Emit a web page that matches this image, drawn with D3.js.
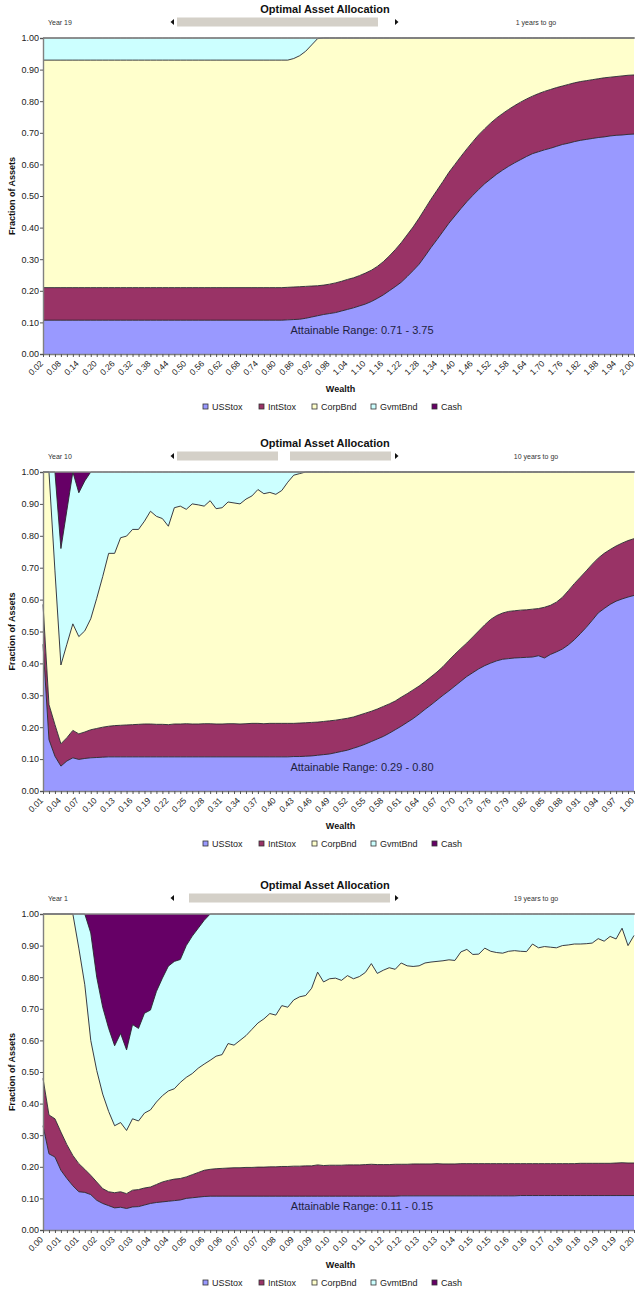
<!DOCTYPE html>
<html><head><meta charset="utf-8">
<script src="https://cdn.jsdelivr.net/npm/d3@7"></script>
<style>
body{margin:0;background:#fff}
text{font-family:"Liberation Sans",Arial,sans-serif}
</style>
</head><body>
<svg id="c" width="635" height="1291"></svg>
<script>
// ---------- DATA ----------
const seriesNames = ["USStox","IntStox","CorpBnd","GvmtBnd","Cash"];
const yTicks = [0,0.1,0.2,0.3,0.4,0.5,0.6,0.7,0.8,0.9,1.0];

// Panel 1 (Year 19)
const p1Wealth = [0.02,0.04,0.06,0.08,0.10,0.12,0.14,0.16,0.18,0.20,0.22,0.24,0.26,0.28,0.30,0.32,0.34,0.36,0.38,0.40,
0.42,0.44,0.46,0.48,0.50,0.52,0.54,0.56,0.58,0.60,0.62,0.64,0.66,0.68,0.70,0.72,0.74,0.76,0.78,0.80,
0.82,0.84,0.86,0.88,0.90,0.92,0.94,0.96,0.98,1.00,1.02,1.04,1.06,1.08,1.10,1.12,1.14,1.16,1.18,1.20,
1.22,1.24,1.26,1.28,1.30,1.32,1.34,1.36,1.38,1.40,1.42,1.44,1.46,1.48,1.50,1.52,1.54,1.56,1.58,1.60,
1.62,1.64,1.66,1.68,1.70,1.72,1.74,1.76,1.78,1.80,1.82,1.84,1.86,1.88,1.90,1.92,1.94,1.96,1.98,2.00];
const p1TickLabels = ["0.02","0.08","0.14","0.20","0.26","0.32","0.38","0.44","0.50","0.56","0.62","0.68","0.74","0.80","0.86","0.92","0.98","1.04","1.10","1.16","1.22","1.28","1.34","1.40","1.46","1.52","1.58","1.64","1.70","1.76","1.82","1.88","1.94","2.00"];
const p1USStox = [0.107,0.107,0.107,0.107,0.107,0.107,0.107,0.107,0.107,0.107,
0.107,0.107,0.107,0.107,0.107,0.107,0.107,0.107,0.107,0.107,
0.107,0.107,0.107,0.107,0.107,0.107,0.107,0.107,0.107,0.107,
0.107,0.107,0.107,0.107,0.107,0.107,0.107,0.107,0.107,0.107,
0.107,0.108,0.109,0.11,0.113,0.117,0.121,0.125,0.128,0.131,
0.136,0.141,0.146,0.152,0.158,0.166,0.176,0.187,0.2,0.213,
0.227,0.245,0.264,0.284,0.31,0.337,0.362,0.388,0.414,0.437,
0.46,0.482,0.502,0.521,0.539,0.554,0.569,0.582,0.594,0.605,
0.615,0.625,0.634,0.64,0.646,0.651,0.657,0.663,0.667,0.672,
0.676,0.679,0.682,0.685,0.687,0.69,0.692,0.693,0.695,0.696];
const p1IntStox = [0.103,0.103,0.103,0.103,0.103,0.103,0.103,0.103,0.103,0.103,
0.103,0.103,0.103,0.103,0.103,0.103,0.103,0.103,0.103,0.103,
0.103,0.103,0.103,0.103,0.103,0.103,0.103,0.103,0.103,0.103,
0.103,0.103,0.103,0.103,0.103,0.103,0.103,0.103,0.103,0.103,
0.103,0.103,0.103,0.103,0.101,0.098,0.095,0.093,0.093,0.094,
0.094,0.095,0.095,0.096,0.098,0.099,0.101,0.105,0.11,0.117,
0.125,0.132,0.138,0.146,0.15,0.153,0.156,0.158,0.161,0.163,
0.165,0.167,0.17,0.173,0.174,0.177,0.178,0.179,0.18,0.181,
0.182,0.182,0.182,0.184,0.185,0.186,0.186,0.185,0.186,0.186,
0.186,0.186,0.186,0.186,0.187,0.186,0.186,0.187,0.187,0.187];
const p1CorpBnd = [0.72,0.72,0.72,0.72,0.72,0.72,0.72,0.72,0.72,0.72,
0.72,0.72,0.72,0.72,0.72,0.72,0.72,0.72,0.72,0.72,
0.72,0.72,0.72,0.72,0.72,0.72,0.72,0.72,0.72,0.72,
0.72,0.72,0.72,0.72,0.72,0.72,0.72,0.72,0.72,0.72,
0.72,0.719,0.723,0.731,0.744,0.763,0.782,0.782,0.779,0.775,
0.77,0.764,0.759,0.752,0.744,0.735,0.723,0.708,0.69,0.67,
0.648,0.623,0.598,0.57,0.54,0.51,0.482,0.454,0.425,0.4,
0.375,0.351,0.328,0.306,0.287,0.269,0.253,0.239,0.226,0.214,
0.203,0.193,0.184,0.176,0.169,0.163,0.157,0.152,0.147,0.142,
0.138,0.135,0.132,0.129,0.126,0.124,0.122,0.12,0.118,0.117];
const p1GvmtBnd = [0.07,0.07,0.07,0.07,0.07,0.07,0.07,0.07,0.07,0.07,
0.07,0.07,0.07,0.07,0.07,0.07,0.07,0.07,0.07,0.07,
0.07,0.07,0.07,0.07,0.07,0.07,0.07,0.07,0.07,0.07,
0.07,0.07,0.07,0.07,0.07,0.07,0.07,0.07,0.07,0.07,
0.07,0.07,0.065,0.056,0.042,0.022,0.002,0,0,0,
0,0,0,0,0,0,0,0,0,0, 0,0,0,0,0,0,0,0,0,0,
0,0,0,0,0,0,0,0,0,0, 0,0,0,0,0,0,0,0,0,0,
0,0,0,0,0,0,0,0,0,0];
const p1Cash = [0,0,0,0,0,0,0,0,0,0, 0,0,0,0,0,0,0,0,0,0, 0,0,0,0,0,0,0,0,0,0,
0,0,0,0,0,0,0,0,0,0, 0,0,0,0,0,0,0,0,0,0, 0,0,0,0,0,0,0,0,0,0,
0,0,0,0,0,0,0,0,0,0, 0,0,0,0,0,0,0,0,0,0, 0,0,0,0,0,0,0,0,0,0,
0,0,0,0,0,0,0,0,0,0];

// Panel 2 (Year 10)
const p2Wealth = [0.01,0.02,0.03,0.04,0.05,0.06,0.07,0.08,0.09,0.10,0.11,0.12,0.13,0.14,0.15,0.16,0.17,0.18,0.19,0.20,
0.21,0.22,0.23,0.24,0.25,0.26,0.27,0.28,0.29,0.30,0.31,0.32,0.33,0.34,0.35,0.36,0.37,0.38,0.39,0.40,
0.41,0.42,0.43,0.44,0.45,0.46,0.47,0.48,0.49,0.50,0.51,0.52,0.53,0.54,0.55,0.56,0.57,0.58,0.59,0.60,
0.61,0.62,0.63,0.64,0.65,0.66,0.67,0.68,0.69,0.70,0.71,0.72,0.73,0.74,0.75,0.76,0.77,0.78,0.79,0.80,
0.81,0.82,0.83,0.84,0.85,0.86,0.87,0.88,0.89,0.90,0.91,0.92,0.93,0.94,0.95,0.96,0.97,0.98,0.99,1.00];
const p2TickLabels = ["0.01","0.04","0.07","0.10","0.13","0.16","0.19","0.22","0.25","0.28","0.31","0.34","0.37","0.40","0.43","0.46","0.49","0.52","0.55","0.58","0.61","0.64","0.67","0.70","0.73","0.76","0.79","0.82","0.85","0.88","0.91","0.94","0.97","1.00"];
const p2USStox = [0.46,0.161,0.109,0.078,0.094,0.104,0.099,0.102,0.104,0.105,
0.106,0.107,0.107,0.107,0.107,0.107,0.107,0.107,0.107,0.107,
0.107,0.107,0.107,0.107,0.107,0.107,0.107,0.107,0.107,0.107,
0.107,0.107,0.107,0.107,0.107,0.107,0.107,0.107,0.107,0.107,
0.107,0.107,0.108,0.108,0.109,0.11,0.112,0.114,0.116,0.12,
0.124,0.128,0.134,0.14,0.147,0.155,0.163,0.171,0.181,0.192,
0.203,0.215,0.227,0.241,0.256,0.27,0.285,0.3,0.314,0.329,
0.344,0.359,0.371,0.383,0.393,0.401,0.408,0.413,0.415,0.417,
0.418,0.419,0.42,0.424,0.417,0.428,0.436,0.445,0.458,0.474,
0.493,0.513,0.535,0.558,0.572,0.585,0.595,0.602,0.608,0.613];
const p2IntStox = [0.125,0.11,0.099,0.07,0.073,0.086,0.08,0.083,0.088,0.091,
0.094,0.096,0.098,0.099,0.1,0.101,0.102,0.103,0.103,0.102,
0.102,0.101,0.103,0.103,0.104,0.103,0.103,0.104,0.104,0.103,
0.103,0.104,0.104,0.103,0.104,0.105,0.105,0.104,0.105,0.105,
0.105,0.105,0.104,0.105,0.105,0.105,0.104,0.104,0.104,0.102,
0.101,0.1,0.098,0.098,0.097,0.095,0.094,0.094,0.092,0.09,
0.091,0.09,0.09,0.088,0.087,0.088,0.088,0.09,0.096,0.1,
0.103,0.105,0.112,0.119,0.128,0.137,0.142,0.145,0.148,0.148,
0.149,0.149,0.15,0.148,0.159,0.154,0.156,0.162,0.17,0.176,
0.177,0.177,0.176,0.172,0.173,0.172,0.173,0.175,0.177,0.178];
const p2CorpBnd = [0.415,0.729,0.482,0.247,0.293,0.334,0.305,0.317,0.348,0.408,
0.472,0.542,0.54,0.588,0.592,0.612,0.611,0.636,0.667,0.652,
0.645,0.622,0.678,0.683,0.672,0.69,0.687,0.682,0.699,0.675,
0.678,0.695,0.692,0.69,0.704,0.713,0.733,0.721,0.724,0.718,
0.73,0.756,0.778,0.782,0.786,0.785,0.784,0.782,0.78,0.778,
0.775,0.772,0.768,0.762,0.756,0.75,0.743,0.735,0.727,0.718,
0.706,0.695,0.683,0.671,0.657,0.642,0.627,0.61,0.59,0.571,
0.553,0.536,0.517,0.498,0.479,0.462,0.45,0.442,0.437,0.435,
0.433,0.432,0.43,0.428,0.424,0.418,0.408,0.393,0.372,0.35,
0.33,0.31,0.289,0.27,0.255,0.243,0.232,0.223,0.215,0.209];
const p2GvmtBnd = [0,0,0.31,0.365,0.42,0.476,0.451,0.47,0.46,0.396,
0.328,0.255,0.255,0.206,0.201,0.18,0.18,0.154,0.123,0.139,
0.146,0.17,0.112,0.107,0.117,0.1,0.103,0.107,0.09,0.115,
0.112,0.094,0.097,0.1,0.085,0.075,0.055,0.068,0.064,0.07,
0.058,0.032,0.01,0.005,0,0,0,0,0,0,
0,0,0,0,0,0,0,0,0,0, 0,0,0,0,0,0,0,0,0,0,
0,0,0,0,0,0,0,0,0,0, 0,0,0,0,0,0,0,0,0,0,
0,0,0,0,0,0,0,0,0,0];
const p2Cash = [0,0,0,0.24,0.12,0,0.065,0.028,0,0,
0,0,0,0,0,0,0,0,0,0, 0,0,0,0,0,0,0,0,0,0, 0,0,0,0,0,0,0,0,0,0,
0,0,0,0,0,0,0,0,0,0, 0,0,0,0,0,0,0,0,0,0, 0,0,0,0,0,0,0,0,0,0,
0,0,0,0,0,0,0,0,0,0, 0,0,0,0,0,0,0,0,0,0, 0,0,0,0,0,0,0,0,0,0];

// Panel 3 (Year 1)
const p3Wealth = [0.002,0.004,0.006,0.008,0.010,0.012,0.014,0.016,0.018,0.020,0.022,0.024,0.026,0.028,0.030,0.032,0.034,0.036,0.038,0.040,
0.042,0.044,0.046,0.048,0.050,0.052,0.054,0.056,0.058,0.060,0.062,0.064,0.066,0.068,0.070,0.072,0.074,0.076,0.078,0.080,
0.082,0.084,0.086,0.088,0.090,0.092,0.094,0.096,0.098,0.100,0.102,0.104,0.106,0.108,0.110,0.112,0.114,0.116,0.118,0.120,
0.122,0.124,0.126,0.128,0.130,0.132,0.134,0.136,0.138,0.140,0.142,0.144,0.146,0.148,0.150,0.152,0.154,0.156,0.158,0.160,
0.162,0.164,0.166,0.168,0.170,0.172,0.174,0.176,0.178,0.180,0.182,0.184,0.186,0.188,0.190,0.192,0.194,0.196,0.198,0.200];
const p3TickLabels = ["0.00","0.01","0.01","0.02","0.03","0.03","0.04","0.04","0.05","0.06","0.06","0.07","0.07","0.08","0.09","0.09","0.10","0.10","0.11","0.12","0.12","0.13","0.13","0.14","0.15","0.15","0.16","0.16","0.17","0.18","0.18","0.19","0.19","0.20"];
const p3USStox = [0.33,0.241,0.231,0.189,0.163,0.14,0.121,0.119,0.112,0.094,
0.084,0.077,0.07,0.072,0.068,0.073,0.074,0.079,0.084,0.087,
0.089,0.091,0.093,0.095,0.1,0.102,0.104,0.106,0.107,0.107,
0.107,0.107,0.107,0.107,0.107,0.107,0.107,0.107,0.107,0.107,
0.107,0.107,0.107,0.107,0.107,0.107,0.107,0.107,0.107,0.107,
0.107,0.107,0.107,0.107,0.107,0.107,0.107,0.107,0.107,0.107,
0.108,0.108,0.108,0.108,0.108,0.108,0.108,0.108,0.108,0.108,
0.108,0.108,0.108,0.108,0.108,0.108,0.108,0.108,0.108,0.108,
0.109,0.109,0.109,0.109,0.109,0.109,0.109,0.109,0.109,0.109,
0.109,0.109,0.109,0.109,0.109,0.109,0.109,0.109,0.109,0.109];
const p3IntStox = [0.15,0.123,0.121,0.121,0.107,0.096,0.089,0.073,0.061,0.058,
0.047,0.044,0.048,0.049,0.047,0.053,0.054,0.054,0.052,0.057,
0.063,0.066,0.068,0.068,0.068,0.073,0.078,0.083,0.085,0.087,
0.088,0.089,0.09,0.09,0.091,0.091,0.092,0.092,0.093,0.093,
0.094,0.094,0.095,0.095,0.096,0.096,0.099,0.097,0.098,0.098,
0.098,0.099,0.099,0.099,0.1,0.101,0.1,0.1,0.1,0.101,
0.1,0.1,0.101,0.101,0.101,0.101,0.102,0.101,0.101,0.101,
0.102,0.102,0.102,0.102,0.102,0.102,0.102,0.102,0.102,0.102,
0.101,0.101,0.101,0.101,0.101,0.101,0.101,0.101,0.101,0.101,
0.102,0.102,0.102,0.102,0.102,0.102,0.103,0.104,0.103,0.103];
const p3CorpBnd = [0.52,0.636,0.648,0.69,0.73,0.764,0.682,0.584,0.427,0.353,
0.299,0.254,0.212,0.219,0.2,0.226,0.217,0.237,0.244,0.261,
0.273,0.283,0.286,0.304,0.315,0.32,0.33,0.336,0.345,0.356,
0.36,0.394,0.388,0.403,0.417,0.437,0.456,0.469,0.485,0.48,
0.509,0.504,0.526,0.536,0.539,0.562,0.61,0.581,0.59,0.592,
0.585,0.599,0.589,0.596,0.608,0.635,0.605,0.615,0.623,0.617,
0.637,0.628,0.625,0.627,0.636,0.639,0.64,0.643,0.646,0.644,
0.67,0.678,0.662,0.663,0.682,0.672,0.668,0.666,0.672,0.674,
0.672,0.671,0.695,0.683,0.687,0.685,0.683,0.69,0.692,0.695,
0.694,0.695,0.697,0.711,0.703,0.718,0.709,0.742,0.688,0.72];
const p3GvmtBnd = [0,0,0,0,0,0,0.108,0.224,0.34,0.295,
0.275,0.263,0.253,0.282,0.255,0.298,0.293,0.316,0.316,0.35,
0.372,0.395,0.403,0.389,0.417,0.435,0.443,0.455,0.463,0.45,
0.445,0.41,0.415,0.4,0.385,0.365,0.345,0.332,0.315,0.32,
0.29,0.295,0.272,0.262,0.258,0.235,0.184,0.215,0.205,0.203,
0.21,0.195,0.205,0.198,0.185,0.157,0.188,0.178,0.17,0.175,
0.155,0.164,0.166,0.164,0.155,0.152,0.15,0.148,0.145,0.147,
0.12,0.112,0.128,0.127,0.108,0.118,0.122,0.124,0.118,0.116,
0.118,0.119,0.095,0.107,0.103,0.105,0.107,0.1,0.098,0.095,
0.095,0.094,0.092,0.078,0.086,0.071,0.079,0.045,0.1,0.068];
const p3Cash = [0,0,0,0,0,0,0,0,0.06,0.2,
0.295,0.362,0.417,0.378,0.43,0.35,0.362,0.314,0.304,0.245,
0.203,0.165,0.15,0.144,0.1,0.07,0.045,0.02,0,0,
0,0,0,0,0,0,0,0,0,0, 0,0,0,0,0,0,0,0,0,0, 0,0,0,0,0,0,0,0,0,0,
0,0,0,0,0,0,0,0,0,0, 0,0,0,0,0,0,0,0,0,0, 0,0,0,0,0,0,0,0,0,0,
0,0,0,0,0,0,0,0,0,0];

// ---------- STYLE / LAYOUT ----------
const colors = ["#9999FF","#993366","#FFFFCC","#CCFFFF","#660066"];
const X0 = 43, X1 = 634;
const panels = [
  {top:38, bottom:354, cats:p1Wealth, labels:p1TickLabels,
   series:[p1USStox,p1IntStox,p1CorpBnd,p1GvmtBnd,p1Cash],
   year:"Year 19", togo:"1 years to go", range:"Attainable Range: 0.71 - 3.75", bars:[[177,378]]},
  {top:472, bottom:791, cats:p2Wealth, labels:p2TickLabels,
   series:[p2USStox,p2IntStox,p2CorpBnd,p2GvmtBnd,p2Cash],
   year:"Year 10", togo:"10 years to go", range:"Attainable Range: 0.29 - 0.80", bars:[[177,278],[290,391]]},
  {top:914, bottom:1230, cats:p3Wealth, labels:p3TickLabels,
   series:[p3USStox,p3IntStox,p3CorpBnd,p3GvmtBnd,p3Cash],
   year:"Year 1", togo:"19 years to go", range:"Attainable Range: 0.11 - 0.15", bars:[[189,390]]}
];

const svg = d3.select("#c");

panels.forEach(p => {
  const g = svg.append("g");
  const x = d3.scalePoint().domain(p.cats).range([X0, X1]);
  const y = d3.scaleLinear().domain([0,1]).range([p.bottom, p.top]);

  const rows = p.cats.map((c,i) => {
    const r = {cat:c};
    seriesNames.forEach((s,k) => r[s] = p.series[k][i]);
    return r;
  });
  const stacked = d3.stack().keys(seriesNames)(rows);
  const area = d3.area().x(d => x(d.data.cat)).y0(d => y(d[0])).y1(d => y(d[1]));
  const line = d3.line().x(d => x(d.data.cat)).y(d => y(d[1]));

  g.selectAll("path.area").data(stacked).join("path")
    .attr("class","area").attr("fill",(d,i)=>colors[i]).attr("d",area);
  g.selectAll("path.edge").data(stacked.slice(0,4)).join("path")
    .attr("class","edge").attr("fill","none").attr("stroke","#26262e")
    .attr("stroke-width",0.9).attr("stroke-linejoin","round").attr("d",line);

  // plot top border
  g.append("line").attr("x1",X0).attr("x2",X1+2).attr("y1",p.top).attr("y2",p.top)
    .attr("stroke","#8a8a8a").attr("stroke-width",1.4);

  // y axis
  const ya = g.append("g").attr("transform",`translate(${X0},0)`)
    .call(d3.axisLeft(y).tickValues(yTicks).tickFormat(d3.format(".2f")).tickSize(3).tickPadding(1));
  ya.select(".domain").attr("stroke","#808080").attr("stroke-width",1.4);
  ya.selectAll(".tick line").attr("stroke","#555");
  ya.selectAll(".tick text").attr("font-size","9px").attr("fill","#222")
    .style("font-family","'Liberation Sans',Arial,sans-serif");

  // x axis: a tick at every category
  const xa = g.append("g").attr("transform",`translate(0,${p.bottom})`)
    .call(d3.axisBottom(x).tickValues(p.cats).tickFormat("").tickSize(3).tickSizeOuter(0));
  xa.select(".domain").attr("stroke","#808080").attr("stroke-width",1.4);
  xa.selectAll(".tick line").attr("stroke","#555");

  // rotated labels at every third category
  const labelCats = p.cats.filter((c,i) => i % 3 === 0);
  g.selectAll("text.xl").data(labelCats).join("text")
    .attr("class","xl")
    .attr("transform", d => `translate(${x(d)-1.5},${p.bottom+8}) rotate(-45)`)
    .attr("text-anchor","end").attr("dy","0.35em")
    .attr("font-size","8.5px").attr("fill","#222")
    .text((d,i) => p.labels[i]);

  // axis titles
  g.append("text").attr("x",(X0+X1)/2+2).attr("y",p.bottom+38).attr("text-anchor","middle")
    .attr("font-size","9px").attr("font-weight","bold").attr("fill","#111").text("Wealth");
  g.append("text").attr("transform",`translate(15,${(p.top+p.bottom)/2}) rotate(-90)`)
    .attr("text-anchor","middle").attr("font-size","9px").attr("font-weight","bold")
    .attr("fill","#111").text("Fraction of Assets");

  // title and header controls
  g.append("text").attr("x",325).attr("y",p.top-25).attr("text-anchor","middle")
    .attr("font-size","11px").attr("font-weight","bold").attr("fill","#111").text("Optimal Asset Allocation");
  g.append("text").attr("x",48).attr("y",p.top-13).attr("font-size","7px").attr("fill","#333").text(p.year);
  g.append("text").attr("x",536).attr("y",p.top-13).attr("text-anchor","middle")
    .attr("font-size","7px").attr("fill","#333").text(p.togo);
  const cy = p.top - 16;
  p.bars.forEach(b => {
    g.append("rect").attr("x",b[0]).attr("y",cy-4.5).attr("width",b[1]-b[0]).attr("height",9)
      .attr("fill","#D4D0C8");
  });
  g.append("path").attr("d",`M170.5,${cy} L174,${cy-3} L174,${cy+3} Z`).attr("fill","#111");
  g.append("path").attr("d",`M398.5,${cy} L395,${cy-3} L395,${cy+3} Z`).attr("fill","#111");

  // attainable range
  g.append("text").attr("x",362).attr("y",p.bottom-20).attr("text-anchor","middle")
    .attr("font-size","11px").attr("fill","#1f1f3f").text(p.range);

  // legend
  const lg = g.append("g").attr("transform",`translate(0,${p.bottom+53})`);
  const legX = [203,259,312,371,432];
  seriesNames.forEach((s,i) => {
    lg.append("rect").attr("x",legX[i]).attr("y",-3).attr("width",5).attr("height",5)
      .attr("fill",colors[i]).attr("stroke","#333").attr("stroke-width",0.8);
    lg.append("text").attr("x",legX[i]+9).attr("y",3).attr("font-size","9px").attr("fill","#222").text(s);
  });
});
</script>
</body></html>
